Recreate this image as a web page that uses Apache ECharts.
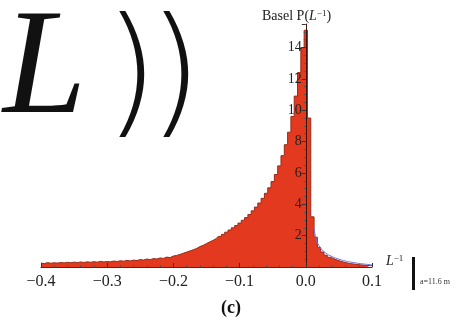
<!DOCTYPE html>
<html lang="en">
<head>
    <meta charset="UTF-8">
    <title>Basel P(L^-1)</title>
    <style>
        html, body { margin: 0; padding: 0; background: #fff; }
    </style>
</head>
<body>
<div id="main" style="width: 467px;height:323px;"></div>

<script src="https://cdn.jsdelivr.net/npm/echarts@6/dist/echarts.min.js"></script>

<script type="text/javascript">
    // bin centres of the histogram, step 0.005 from -0.4 to 0.1
    var binStart = -0.4;
    var binStep = 0.005;
    // histogram heights
    var counts = [
        0.25, 0.22, 0.28, 0.24, 0.27, 0.25, 0.29, 0.26, 0.30, 0.27,
        0.31, 0.28, 0.32, 0.29, 0.33, 0.30, 0.34, 0.31, 0.36, 0.32,
        0.35, 0.33, 0.38, 0.35, 0.40, 0.37, 0.42, 0.39, 0.44, 0.41,
        0.48, 0.44, 0.51, 0.47, 0.54, 0.51, 0.58, 0.55, 0.63, 0.60,
        0.70, 0.74, 0.80, 0.88, 0.95, 1.02, 1.10, 1.18, 1.30, 1.38,
        1.50, 1.60, 1.70, 1.82, 1.95, 2.08, 2.22, 2.36, 2.50, 2.64,
        2.80, 2.98, 3.15, 3.35, 3.58, 3.82, 4.08, 4.38, 4.70, 5.05,
        5.45, 5.90, 6.45, 7.10, 7.80, 8.60, 9.60, 10.9, 12.4, 14.0,
        15.1, 9.5, 3.2, 1.9, 1.25, 0.95, 0.75, 0.62, 0.52, 0.44,
        0.37, 0.31, 0.26, 0.22, 0.19, 0.16, 0.14, 0.12, 0.10, 0.09,
        0.08
    ];
    // fitted curve on the right tail
    var fitX = [0.012, 0.015, 0.02, 0.03, 0.04, 0.05, 0.06, 0.07, 0.08, 0.09, 0.1];
    var fitY = [2.6, 1.9, 1.35, 0.9, 0.66, 0.5, 0.38, 0.3, 0.23, 0.18, 0.14];
    var yTicks = [2, 4, 6, 8, 10, 12, 14];

    var histData = [];
    for (var i = 0; i < counts.length; i++) {
        histData.push([+(binStart + i * binStep).toFixed(3), counts[i]]);
    }
    var fitData = [];
    for (var j = 0; j < fitX.length; j++) {
        fitData.push([fitX[j], fitY[j]]);
    }

    var serif = '"Liberation Serif", "DejaVu Serif", serif';
    var myChart = echarts.init(document.getElementById('main'));

    // grid: x from 41 to 372, zero of x sits at 41 + 0.8 * 331
    var gridLeft = 41, gridWidth = 331;
    var zeroOffset = 0.8 * gridWidth;

    var option = {
        animation: false,
        backgroundColor: '#fff',
        grid: {left: gridLeft, top: 24, width: gridWidth, height: 243},
        xAxis: {
            type: 'value',
            min: -0.4,
            max: 0.1,
            interval: 0.1,
            z: 5,
            axisLine: {onZero: false, lineStyle: {color: '#333', width: 1}},
            axisTick: {inside: true, length: 4, lineStyle: {color: '#333'}},
            minorTick: {show: true, splitNumber: 5, length: 2, lineStyle: {color: '#555'}},
            splitLine: {show: false},
            axisLabel: {
                fontFamily: serif, fontSize: 16, color: '#222', margin: 7,
                formatter: function (v) {
                    var s = Math.abs(v).toFixed(1);
                    return v < -1e-9 ? '\u2212' + s : s;
                }
            }
        },
        yAxis: {
            type: 'value',
            min: 0,
            max: 15.5,
            interval: 2,
            z: 5,
            offset: -zeroOffset,
            axisLine: {onZero: false, lineStyle: {color: '#3a1208', width: 1}},
            axisTick: {length: 4, lineStyle: {color: '#333'}},
            minorTick: {show: true, splitNumber: 4, length: 2, lineStyle: {color: '#555'}},
            splitLine: {show: false},
            axisLabel: {
                fontFamily: serif, fontSize: 14, color: '#222', margin: 4,
                formatter: function (v) {
                    return yTicks.indexOf(v) >= 0 ? String(v) : '';
                }
            }
        },
        series: [{
            name: 'hist',
            type: 'line',
            step: 'middle',
            symbol: 'none',
            data: histData,
            lineStyle: {color: '#9a2a16', width: 1},
            areaStyle: {color: '#e2391f', opacity: 1}
        }, {
            name: 'fit',
            type: 'line',
            smooth: true,
            symbol: 'none',
            data: fitData,
            z: 3,
            lineStyle: {color: '#6a74d8', width: 1}
        }],
        graphic: [
            {type: 'text', left: 3, top: -2, style: {text: 'L', font: 'italic 150px ' + serif, fill: '#111'}},
            {type: 'text', left: 104, top: 12, style: {text: ')', font: '200 140px "DejaVu Sans", sans-serif', fill: '#111'}},
            {type: 'text', left: 148, top: 12, style: {text: ')', font: '200 140px "DejaVu Sans", sans-serif', fill: '#111'}},
            {
                type: 'text', left: 262, top: 9,
                style: {
                    text: 'Basel P({i|L}{s|\u22121})',
                    font: '14px ' + serif, fill: '#222',
                    rich: {
                        i: {fontFamily: serif, fontStyle: 'italic', fontSize: 14, fill: '#222'},
                        s: {fontFamily: serif, fontSize: 9, verticalAlign: 'top', fill: '#222'}
                    }
                }
            },
            {
                type: 'text', left: 386, top: 254,
                style: {
                    text: '{i|L}{s|\u22121}',
                    font: '14px ' + serif, fill: '#222',
                    rich: {
                        i: {fontFamily: serif, fontStyle: 'italic', fontSize: 14, fill: '#222'},
                        s: {fontFamily: serif, fontSize: 9, verticalAlign: 'top', fill: '#222'}
                    }
                }
            },
            {type: 'rect', shape: {x: 412, y: 257, width: 3, height: 33}, style: {fill: '#111'}},
            {type: 'text', left: 420, top: 278, style: {text: 'a=11.6 m', font: '8px ' + serif, fill: '#333'}},
            {type: 'text', left: 221, top: 299, style: {text: '(c)', font: 'bold 18px ' + serif, fill: '#111'}}
        ]
    };
    myChart.setOption(option);
</script>
</body>
</html>
